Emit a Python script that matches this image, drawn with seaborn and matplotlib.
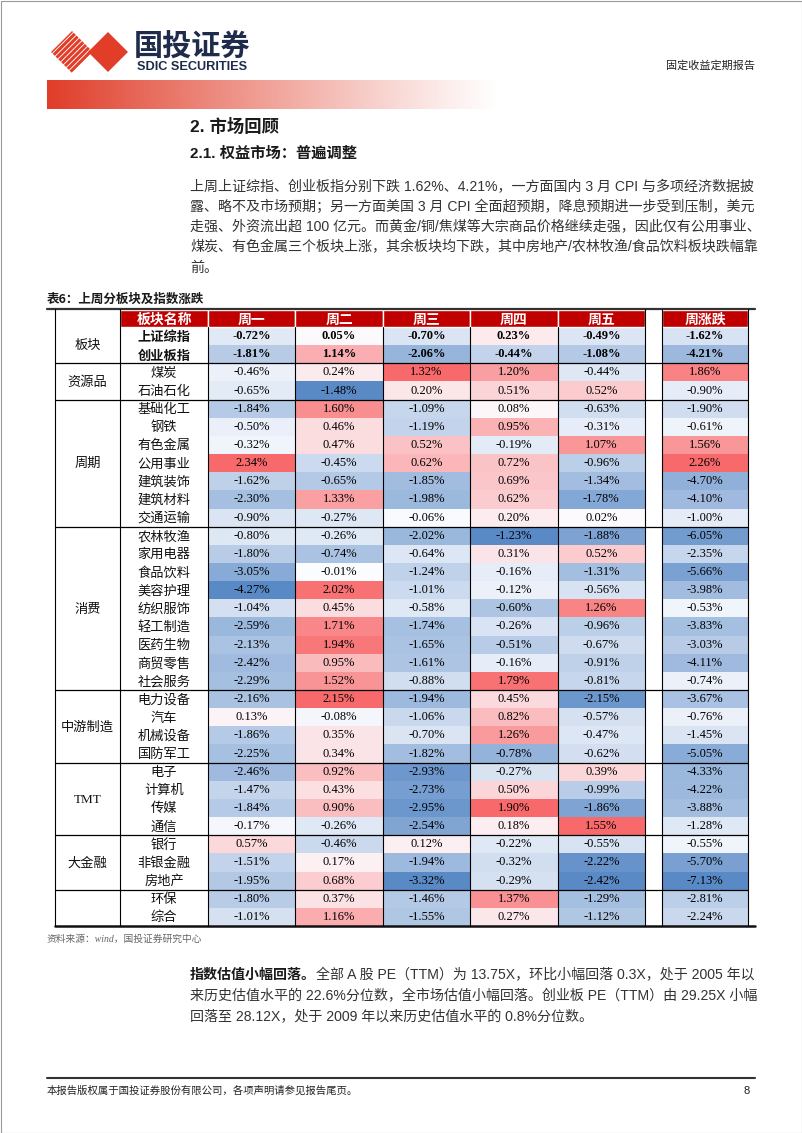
import numpy as np
import pandas as pd
import seaborn as sns
import matplotlib.pyplot as plt
from matplotlib.colors import LinearSegmentedColormap, to_rgb
from matplotlib.patches import Rectangle, Polygon

# =============================
# Data (read off the table)
# =============================
groups = ['板块', '资源品', '周期', '消费', '中游制造', 'TMT', '大金融', '']
group_sizes = [2, 2, 7, 9, 4, 4, 3, 2]
sectors = ['上证综指', '创业板指', '煤炭', '石油石化', '基础化工', '钢铁', '有色金属',
           '公用事业', '建筑装饰', '建筑材料', '交通运输', '农林牧渔', '家用电器',
           '食品饮料', '美容护理', '纺织服饰', '轻工制造', '医药生物', '商贸零售',
           '社会服务', '电力设备', '汽车', '机械设备', '国防军工', '电子', '计算机',
           '传媒', '通信', '银行', '非银金融', '房地产', '环保', '综合']
days = ['周一', '周二', '周三', '周四', '周五']
mon = [-0.72, -1.81, -0.46, -0.65, -1.84, -0.50, -0.32, 2.34, -1.62, -2.30, -0.90,
       -0.80, -1.80, -3.05, -4.27, -1.04, -2.59, -2.13, -2.42, -2.29,
       -2.16, 0.13, -1.86, -2.25, -2.46, -1.47, -1.84, -0.17, 0.57, -1.51, -1.95,
       -1.80, -1.01]
tue = [0.05, 1.14, 0.24, -1.48, 1.60, 0.46, 0.47, -0.45, -0.65, 1.33, -0.27,
       -0.26, -0.74, -0.01, 2.02, 0.45, 1.71, 1.94, 0.95, 1.52,
       2.15, -0.08, 0.35, 0.34, 0.92, 0.43, 0.90, -0.26, -0.46, 0.17, 0.68,
       0.37, 1.16]
wed = [-0.70, -2.06, 1.32, 0.20, -1.09, -1.19, 0.52, 0.62, -1.85, -1.98, -0.06,
       -2.02, -0.64, -1.24, -1.01, -0.58, -1.74, -1.65, -1.61, -0.88,
       -1.94, -1.06, -0.70, -1.82, -2.93, -2.73, -2.95, -2.54, 0.12, -1.94, -3.32,
       -1.46, -1.55]
thu = [0.23, -0.44, 1.20, 0.51, 0.08, 0.95, -0.19, 0.72, 0.69, 0.62, 0.20,
       -1.23, 0.31, -0.16, -0.12, -0.60, -0.26, -0.51, -0.16, 1.79,
       0.45, 0.82, 1.26, -0.78, -0.27, 0.50, 1.90, 0.18, -0.22, -0.32, -0.29,
       1.37, 0.27]
fri = [-0.49, -1.08, -0.44, 0.52, -0.63, -0.31, 1.07, -0.96, -1.34, -1.78, 0.02,
       -1.88, 0.52, -1.31, -0.56, 1.26, -0.96, -0.67, -0.91, -0.81,
       -2.15, -0.57, -0.47, -0.62, 0.39, -0.99, -1.86, 1.55, -0.55, -2.22, -2.42,
       -1.29, -1.12]
week = [-1.62, -4.21, 1.86, -0.90, -1.90, -0.61, 1.56, 2.26, -4.70, -4.10, -1.00,
        -6.05, -2.35, -5.66, -3.98, -0.53, -3.83, -3.03, -4.11, -0.74,
        -3.67, -0.76, -1.45, -5.05, -4.33, -4.22, -3.88, -1.28, -0.55, -5.70, -7.13,
        -2.81, -2.24]

para1 = ['上周上证综指、创业板指分别下跌 1.62%、4.21%，一方面国内 3 月 CPI 与多项经济数据披',
         '露、略不及市场预期；另一方面美国 3 月 CPI 全面超预期，降息预期进一步受到压制，美元',
         '走强、外资流出超 100 亿元。而黄金/铜/焦煤等大宗商品价格继续走强，因此仅有公用事业、',
         '煤炭、有色金属三个板块上涨，其余板块均下跌，其中房地产/农林牧渔/食品饮料板块跌幅靠',
         '前。']
para2_head = '指数估值小幅回落。'
para2 = ['全部 A 股 PE（TTM）为 13.75X，环比小幅回落 0.3X，处于 2005 年以',
         '来历史估值水平的 22.6%分位数，全市场估值小幅回落。创业板 PE（TTM）由 29.25X 小幅',
         '回落至 28.12X，处于 2009 年以来历史估值水平的 0.8%分位数。']

# =============================
# Styling
# =============================
W, H = 802, 1133
CJK = ['Noto Sans CJK SC', 'DejaVu Sans']
TXT = ['Liberation Sans', 'Noto Sans CJK SC']
SERIF = ['Liberation Serif', 'Noto Sans CJK SC']
RED = '#C00000'
LOGO = '#E23D28'
NAVY = '#1E2B4A'
PARA_FS = 10.1

sns.set_theme(style='white')
plt.rcParams['font.family'] = CJK

cmap = LinearSegmentedColormap.from_list('rwb', ['#5A8AC6', '#FCFCFF', '#F8696B'])


def col_scale(values):
    # excel-like 3 colour scale per column: min -> blue, 0 -> white, max -> red
    v = np.asarray(values, dtype=float)
    return np.where(v >= 0, v / v.max(), v / -v.min())


daily = pd.DataFrame(dict(zip(days, [mon, tue, wed, thu, fri])), index=sectors)
weekly = pd.DataFrame({'周涨跌': week}, index=sectors)
daily_norm = pd.DataFrame({c: col_scale(daily[c]) for c in daily}, index=sectors)
weekly_norm = pd.DataFrame({c: col_scale(weekly[c]) for c in weekly}, index=sectors)
fmt_pct = np.vectorize(lambda v: f'{v:.2f}%')

# table geometry (pixels)
TOP, HDR, ROW = 309, 327, 18.15
BOT = HDR + ROW * len(sectors)
day_edges = np.linspace(208, 645, 6)
WK0, WK1 = 662, 748


def fx(x):
    return x / W


def fy(y):
    return 1 - y / H


fig = plt.figure(figsize=(W / 100, H / 100), dpi=100)

# =============================
# Heatmaps
# =============================
ax_d = fig.add_axes([fx(208), fy(BOT), fx(645) - fx(208), (BOT - HDR) / H])
ax_w = fig.add_axes([fx(WK0), fy(BOT), fx(WK1) - fx(WK0), (BOT - HDR) / H])
for ax, norm, raw in [(ax_d, daily_norm, daily), (ax_w, weekly_norm, weekly)]:
    sns.heatmap(norm, ax=ax, cmap=cmap, vmin=-1, vmax=1, annot=fmt_pct(raw.values),
                fmt='', cbar=False, xticklabels=False, yticklabels=False,
                annot_kws=dict(fontsize=9, fontfamily='Liberation Serif', color='black'))
    for t in ax.texts:
        if t.get_position()[1] < 2:
            t.set_fontweight('bold')
    ax.set_xlabel('')
    ax.set_ylabel('')

# =============================
# Page layer
# =============================
page = fig.add_axes([0, 0, 1, 1])
page.axis('off')

# gradient band under logo
grad = np.zeros((1, 256, 4))
grad[..., :3] = to_rgb('#E03C28')
grad[..., 3] = np.linspace(1, 0, 256) ** 1.1
page.imshow(grad, extent=[47, 500, 109, 80], aspect='auto', interpolation='bilinear')

# logo: striped diamond + solid diamond
clip = Polygon([(72, 31), (93, 52), (72, 73), (51, 52)], closed=True, fc='none', ec='none')
page.add_patch(clip)
xs = np.array([30, 120])
for c in np.arange(103, 148, 5.6):
    ln, = page.plot(xs, c - xs, color=LOGO, lw=2.2, solid_capstyle='butt')
    ln.set_clip_path(clip)
page.add_patch(Polygon([(108, 32), (128, 52), (108, 72), (88, 52)], closed=True,
                       fc=LOGO, ec='none'))
page.text(134, 47, '国投证券', fontsize=21, weight='bold', color=NAVY, va='center',
          family=CJK)
page.text(137, 67.5, 'SDIC SECURITIES', fontsize=9.2, color=NAVY, va='center',
          family=['Liberation Sans'], weight='bold')
page.text(755, 66, '固定收益定期报告', fontsize=8, color='#222222', ha='right',
          va='center', family=CJK)

# headings
page.text(190, 126, '2. 市场回顾', fontsize=12.5, weight='bold', va='center',
          family=TXT, color='#1a1a1a')
page.text(190, 153, '2.1. 权益市场：普遍调整', fontsize=11, weight='bold', va='center',
          family=TXT, color='#1a1a1a')
for i, line in enumerate(para1):
    page.text(190, 187 + 20.2 * i, line, fontsize=PARA_FS, va='center', family=TXT,
              color='#333333')

# table title and header row
page.text(47, 299, '表6：上周分板块及指数涨跌', fontsize=9, weight='bold', va='center',
          family=CJK, color='#1a1a1a')
head_cells = [(120, 208, '板块名称')] + \
    [(day_edges[i], day_edges[i + 1], d) for i, d in enumerate(days)] + \
    [(WK0, WK1, '周涨跌')]
for x0, x1, lab in head_cells:
    page.add_patch(Rectangle((x0, TOP + 1), x1 - x0, HDR - TOP - 1, fc=RED,
                             ec='white', lw=1))
    page.text((x0 + x1) / 2, (TOP + HDR) / 2 + 1.5, lab, color='white', fontsize=10,
              weight='bold', ha='center', va='center', family=CJK)

# sector names and group labels
for i, name in enumerate(sectors):
    page.text(164, HDR + (i + 0.5) * ROW + 1.2, name, fontsize=9.5, ha='center',
              va='center', family=SERIF if i >= 2 else CJK,
              weight='bold' if i < 2 else 'normal', color='#111111')
bounds = np.cumsum([0] + group_sizes)
for g, a, b in zip(groups, bounds[:-1], bounds[1:]):
    page.text(87.5, HDR + (a + b) / 2 * ROW + 1.2, g, fontsize=9.5, ha='center',
              va='center', family=SERIF, color='#111111')

# rules
page.plot([47, 755], [TOP, TOP], color='#333333', lw=1.6)
page.plot([55, 755], [BOT, BOT], color='#111111', lw=1.8)
for x in [55, 120, 645, 662, WK1]:
    page.plot([x, x], [TOP, BOT], color='black', lw=0.8)
for x in day_edges[:-1]:
    page.plot([x, x], [HDR, BOT], color='black', lw=0.8)
for k in bounds[1:-1]:
    page.plot([55, WK1], [HDR + k * ROW] * 2, color='black', lw=0.9)

page.text(47, 939, '资料来源：wind，国投证券研究中心', fontsize=7, color='#666666',
          style='italic', va='center', family=SERIF)

# second paragraph with bold lead-in
head = page.text(190, 975, para2_head, fontsize=PARA_FS, weight='bold', va='center',
                 family=TXT, color='#1a1a1a')
page.annotate(para2[0], xy=(1, 0.5), xycoords=head, va='center', fontsize=PARA_FS,
              family=TXT, color='#333333')
for i, line in enumerate(para2[1:], start=1):
    page.text(190, 975 + 21 * i, line, fontsize=PARA_FS, va='center', family=TXT,
              color='#333333')

# footer
page.plot([47, 755], [1078, 1078], color='#333333', lw=1.5)
page.text(47, 1091, '本报告版权属于国投证券股份有限公司，各项声明请参见报告尾页。',
          fontsize=7.5, va='center', family=CJK, color='#222222')
page.text(750, 1091, '8', fontsize=8, ha='right', va='center', family=TXT,
          color='#222222')

page.add_patch(Rectangle((0.5, 0.5), W - 1, H - 1, fill=False, ec='#999999', lw=0.8))
page.set_xlim(0, W)
page.set_ylim(H, 0)

fig.savefig('out.png', dpi=100)
